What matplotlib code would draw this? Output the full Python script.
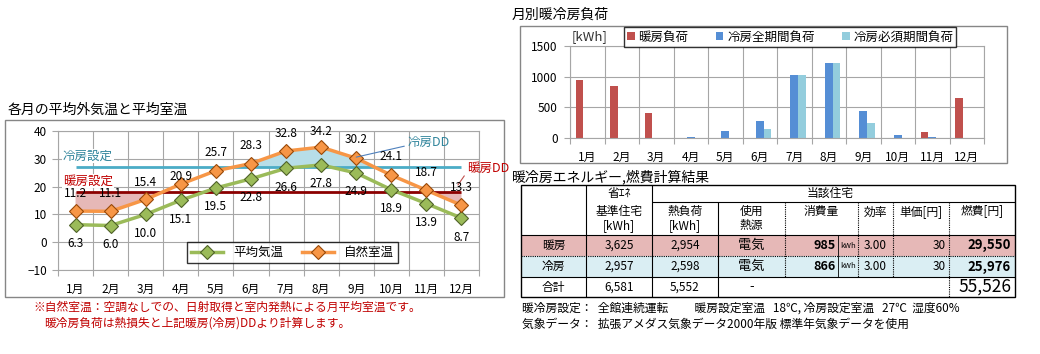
import matplotlib
matplotlib.use("Agg")
import matplotlib.pyplot as plt
from matplotlib.patches import Rectangle
import numpy as np

plt.rcParams['font.family'] = ['Noto Sans CJK JP', 'DejaVu Sans']

W, H = 1040, 354

# ---- data ----
months = ['1月', '2月', '3月', '4月', '5月', '6月', '7月', '8月', '9月', '10月', '11月', '12月']
outdoor_temp = [6.3, 6.0, 10.0, 15.1, 19.5, 22.8, 26.6, 27.8, 24.9, 18.9, 13.9, 8.7]
natural_temp = [11.2, 11.1, 15.4, 20.9, 25.7, 28.3, 32.8, 34.2, 30.2, 24.1, 18.7, 13.3]
heat_set = 18
cool_set = 27

heating_load = [950, 855, 410, 0, 0, 0, 0, 0, 0, 0, 95, 655]
cooling_all = [0, 0, 0, 20, 115, 280, 1030, 1220, 440, 50, 20, 0]
cooling_req = [0, 0, 0, 0, 0, 150, 1030, 1220, 245, 0, 0, 0]

row_names = ['暖房', '冷房', '合計']
std_house_kwh = [3625, 2957, 6581]
heat_load_kwh = [2954, 2598, 5552]
heat_source = ['電気', '電気', '-']
consumption = [985, 866]
efficiency = [3.00, 3.00]
unit_price = [30, 30]
fuel_cost = [29550, 25976]
total_cost = 55526

# colours
GREEN, ORANGE = '#9bbb59', '#f79646'
PINK, LBLUE = '#e6b8b7', '#daeef3'
GRID = '#a6a6a6'


def px_axes(fig, x0, y0, x1, y1):
    return fig.add_axes([x0 / W, 1 - y1 / H, (x1 - x0) / W, (y1 - y0) / H])


fig = plt.figure(figsize=(W / 100, H / 100), dpi=100)

# canvas in pixel coordinates for frames, titles, table, notes
cv = fig.add_axes([0, 0, 1, 1])
cv.set_xlim(0, W)
cv.set_ylim(H, 0)
cv.axis('off')

cv.add_patch(Rectangle((5, 120), 499, 177, fill=False, ec='#868686', lw=1))
cv.add_patch(Rectangle((520, 26), 487, 137, fill=False, ec='#868686', lw=1))

cv.text(8, 110, '各月の平均外気温と平均室温', fontsize=10, va='center')
cv.text(512, 15, '月別暖冷房負荷', fontsize=10, va='center')
cv.text(512, 177, '暖冷房エネルギー,燃費計算結果', fontsize=10, va='center')

cv.text(33, 307, '※自然室温：空調なしでの、日射取得と室内発熱による月平均室温です。',
        fontsize=8.5, color='#c00000', va='center')
cv.text(44, 323, '暖冷房負荷は熱損失と上記暖房(冷房)DDより計算します。',
        fontsize=8.5, color='#c00000', va='center')
cv.text(522, 308, '暖冷房設定：  全館連続運転          暖房設定室温   18℃, 冷房設定室温   27℃  湿度60%',
        fontsize=8.5, va='center')
cv.text(522, 324, '気象データ：  拡張アメダス気象データ2000年版 標準年気象データを使用',
        fontsize=8.5, va='center')

# ---- left chart: temperatures ----
x = np.arange(len(months))
ax1 = px_axes(fig, 58, 131, 479, 270)
ax1.set_xlim(-0.5, 11.5)
ax1.set_ylim(-10, 40)
ax1.set_yticks(range(-10, 41, 10))
ax1.set_xticks(np.arange(-0.5, 12, 1))
ax1.set_xticklabels([])
ax1.set_xticks(x, minor=True)
ax1.set_xticklabels(months, minor=True)
ax1.tick_params(axis='x', which='minor', length=0, pad=9, labelsize=8.5)
ax1.tick_params(axis='x', which='major', length=4, color=GRID)
ax1.tick_params(axis='y', length=4, color=GRID, pad=4, labelsize=8.5)
ax1.grid(True, which='major', color=GRID, lw=0.8)
ax1.set_axisbelow(True)
for s in ax1.spines.values():
    s.set_color(GRID)

nat = np.array(natural_temp)
ax1.fill_between(x, nat, heat_set, where=nat < heat_set, interpolate=True,
                 color=PINK, lw=0, zorder=1)
ax1.fill_between(x, nat, cool_set, where=nat > cool_set, interpolate=True,
                 color='#b7dee8', lw=0, zorder=1)
ax1.hlines(cool_set, x[0], x[-1], color='#4bacc6', lw=2, zorder=2)
ax1.hlines(heat_set, x[0], x[-1], color='#8b0000', lw=2, zorder=2)

l1, = ax1.plot(x, outdoor_temp, color=GREEN, lw=2.5, marker='D', ms=7,
               mfc=GREEN, mec='#4f6228', mew=0.8, zorder=3, label='平均気温')
l2, = ax1.plot(x, natural_temp, color=ORANGE, lw=2.5, marker='D', ms=7,
               mfc=ORANGE, mec='#984807', mew=0.8, zorder=3, label='自然室温')

nat_offsets = [18, 18, 17, 8, 18, 18, 18, 16, 19, 19, 18, 18]
for xi, v, off in zip(x, natural_temp, nat_offsets):
    ax1.annotate(f'{v:.1f}', (xi, v), xytext=(0, off), textcoords='offset pixels',
                 ha='center', va='center', fontsize=8.5, zorder=4)
for xi, v in zip(x, outdoor_temp):
    ax1.annotate(f'{v:.1f}', (xi, v), xytext=(0, -19), textcoords='offset pixels',
                 ha='center', va='center', fontsize=8.5, zorder=4)

ax1.text(-0.36, 31, '冷房設定', color='#31859c', fontsize=9, va='center',
         bbox=dict(fc='white', ec='none', pad=0.5), zorder=2)
ax1.text(-0.36, 22, '暖房設定', color='#c00000', fontsize=9, va='center',
         bbox=dict(fc='white', ec='none', pad=0.5), zorder=2)

ax1.annotate('冷房DD', xy=(8.0, 30.6), xytext=(9.45, 35.7), color='#31859c',
             fontsize=9, va='center', ha='left', annotation_clip=False,
             arrowprops=dict(arrowstyle='-', color='#4f81bd', lw=0.8,
                             shrinkA=0, shrinkB=0, relpos=(0, 0.3)))
ax1.annotate('暖房DD', xy=(10.9, 20.6), xytext=(11.16, 26.7), color='#c00000',
             fontsize=9, va='center', ha='left', annotation_clip=False,
             arrowprops=dict(arrowstyle='-', color='#c0504d', lw=0.8,
                             shrinkA=0, shrinkB=0, relpos=(0, 0.2)))

leg1 = ax1.legend(handles=[l1, l2], ncol=2, loc='center', bbox_to_anchor=(0.557, 0.126),
                  fontsize=9, frameon=True, fancybox=False, edgecolor='black',
                  handlelength=2.6, columnspacing=1.5, borderpad=0.3)
leg1.get_frame().set_linewidth(1)
leg1.set_zorder(5)

# ---- right chart: monthly loads ----
ax2 = px_axes(fig, 570, 46, 984, 138)
bw = 0.223
ax2.bar(x - bw, heating_load, bw, color='#c0504d', zorder=2, label='暖房負荷')
ax2.bar(x, cooling_all, bw, color='#558ed5', zorder=2, label='冷房全期間負荷')
ax2.bar(x + bw, cooling_req, bw, color='#93cddd', zorder=2, label='冷房必須期間負荷')
ax2.set_xlim(-0.5, 11.5)
ax2.set_ylim(0, 1500)
ax2.set_yticks([0, 500, 1000, 1500])
ax2.set_xticks(np.arange(-0.5, 12, 1))
ax2.set_xticklabels([])
ax2.set_xticks(x, minor=True)
ax2.set_xticklabels(months, minor=True)
ax2.tick_params(axis='x', which='minor', length=0, pad=9, labelsize=8.5)
ax2.tick_params(axis='x', which='major', length=4, color=GRID)
ax2.tick_params(axis='y', length=4, color=GRID, pad=5, labelsize=8.5)
ax2.grid(True, which='major', color=GRID, lw=0.8)
ax2.set_axisbelow(True)
for s in ax2.spines.values():
    s.set_color(GRID)
ax2.text(0.005, 1.098, '[kWh]', transform=ax2.transAxes, fontsize=9.5,
         va='center', ha='left', color='#333333')
leg2 = ax2.legend(ncol=3, loc='center', bbox_to_anchor=(0.532, 1.098), fontsize=9,
                  frameon=True, fancybox=False, edgecolor='black', handlelength=0.6,
                  handleheight=0.6, handletextpad=0.3, columnspacing=2.2, borderpad=0.25)
leg2.get_frame().set_linewidth(1)

# ---- table ----
col_x = [521, 586, 652, 718, 785, 838, 858, 893, 949, 1015]
row_y = [185, 202, 235, 256, 277, 297]
left, right = col_x[0], col_x[-1]
cv.add_patch(Rectangle((left, row_y[2]), right - left, row_y[3] - row_y[2], color=PINK, lw=0))
cv.add_patch(Rectangle((left, row_y[3]), right - left, row_y[4] - row_y[3], color=LBLUE, lw=0))
cv.add_patch(Rectangle((left, row_y[0]), right - left, row_y[-1] - row_y[0],
                       fill=False, ec='black', lw=1))
cv.hlines(row_y[1], col_x[2], right, color='black', lw=0.8)
cv.hlines(row_y[2], left, right, color='black', lw=0.8)
cv.hlines(row_y[3], left, right, color='black', lw=0.8, linestyles=(0, (1, 1)))
cv.hlines(row_y[4], left, right, color='black', lw=0.8)
cv.vlines([col_x[1], col_x[2]], row_y[0], row_y[-1], color='black', lw=0.8)
cv.vlines(col_x[3], row_y[1], row_y[-1], color='black', lw=0.8)
cv.vlines([col_x[4], col_x[6], col_x[7]], row_y[1], row_y[4], color='black', lw=0.8,
          linestyles=(0, (1, 1)))
cv.vlines(col_x[5], row_y[2], row_y[4], color='black', lw=0.6)
cv.vlines(col_x[8], row_y[1], row_y[-1], color='black', lw=0.8, linestyles=(0, (1, 1)))

fs = 8.5
cc = [(a + b) / 2 for a, b in zip(col_x[:-1], col_x[1:])]
cv.text(cc[1], 193, '省ｴﾈ', ha='center', va='center', fontsize=fs)
cv.text(cc[1], 211, '基準住宅', ha='center', va='center', fontsize=fs)
cv.text(cc[1], 226, '[kWh]', ha='center', va='center', fontsize=fs)
cv.text(830, 193, '当該住宅', ha='center', va='center', fontsize=fs)
cv.text(cc[2], 211, '熱負荷', ha='center', va='center', fontsize=fs)
cv.text(cc[2], 226, '[kWh]', ha='center', va='center', fontsize=fs)
cv.text(cc[3], 211, '使用', ha='center', va='center', fontsize=fs)
cv.text(cc[3], 226, '熱源', ha='center', va='center', fontsize=fs)
cv.text(821, 212, '消費量', ha='center', va='center', fontsize=fs)
cv.text(cc[6], 212, '効率', ha='center', va='center', fontsize=fs)
cv.text(cc[7], 212, '単価[円]', ha='center', va='center', fontsize=fs)
cv.text(cc[8], 212, '燃費[円]', ha='center', va='center', fontsize=fs)

row_c = [(a + b) / 2 for a, b in zip(row_y[2:-1], row_y[3:])]
for i, yc in enumerate(row_c):
    cv.text(cc[0], yc, row_names[i], ha='center', va='center', fontsize=fs)
    cv.text(cc[1], yc, f'{std_house_kwh[i]:,}', ha='center', va='center', fontsize=fs)
    cv.text(cc[2], yc, f'{heat_load_kwh[i]:,}', ha='center', va='center', fontsize=fs)
    cv.text(cc[3], yc, heat_source[i], ha='center', va='center', fontsize=9.5)
for i, yc in enumerate(row_c[:2]):
    cv.text(836, yc, f'{consumption[i]:,}', ha='right', va='center', fontsize=9,
            fontweight='bold')
    cv.text(cc[5], yc, 'kWh', ha='center', va='center', fontsize=5.5)
    cv.text(cc[6], yc, f'{efficiency[i]:.2f}', ha='center', va='center', fontsize=fs)
    cv.text(946, yc, f'{unit_price[i]}', ha='right', va='center', fontsize=fs)
    cv.text(1011, yc, f'{fuel_cost[i]:,}', ha='right', va='center', fontsize=9.5,
            fontweight='bold')
cv.text(1011, row_c[2], f'{total_cost:,}', ha='right', va='center', fontsize=12.5)

fig.savefig('out.png', dpi=100)
